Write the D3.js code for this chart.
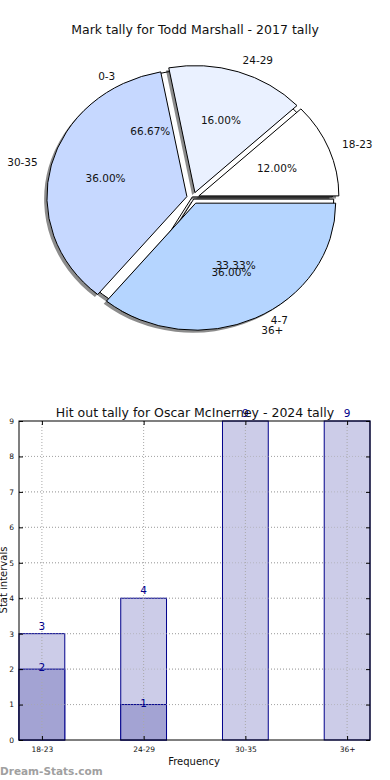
<!DOCTYPE html>
<html>
<head>
<meta charset="utf-8">
<script src="https://cdn.jsdelivr.net/npm/d3@7"></script>
<style>
  body { margin: 0; background: #fff; }
  svg { display: block; font-family: "DejaVu Sans", sans-serif; }
</style>
</head>
<body>
<svg id="chart" width="390" height="780"></svg>
<script>
// pie data
const pieTitle = "Mark tally for Todd Marshall - 2017 tally";
const pieLabels = ["18-23", "24-29", "30-35", "36+"];
const pieValues = [12, 16, 36, 36];
const pieColors = ["#ffffff", "#eaf1ff", "#c6d8ff", "#b5d5ff"];
const backLabels = ["0-3", "4-7"];
const backValues = [66.67, 33.33];

// bar data
const barTitle = "Hit out tally for Oscar McInerney - 2024 tally";
const barCats = ["18-23", "24-29", "30-35", "36+"];
const totalVals = [3, 4, 9, 9];
const partVals = [2, 1, 0, 0];
const yTicks = [0, 1, 2, 3, 4, 5, 6, 7, 8, 9];

const svg = d3.select("#chart");

// ---------- pie ----------
const cx = 193, cy = 198, rx = 140, ry = 127;
svg.append("text")
    .attr("x", 195).attr("y", 34)
    .attr("text-anchor", "middle")
    .attr("font-size", 12.5)
    .attr("fill", "#111")
    .text(pieTitle);

// matplotlib starts at 3 o'clock and goes counter-clockwise
const pie = d3.pie().sort(null).startAngle(Math.PI / 2).endAngle(Math.PI / 2 - 2 * Math.PI);
const arc = d3.arc().innerRadius(0).outerRadius(1);

function drawPie(values, colors, explode) {
    const arcs = pie(values);
    const g = svg.append("g").attr("transform", `translate(${cx},${cy}) scale(${rx},${ry})`);
    const off = d => {
        const m = (d.startAngle + d.endAngle) / 2;
        return [Math.sin(m) * explode, -Math.cos(m) * explode];
    };
    // shadows
    g.selectAll(".shadow").data(arcs).join("path")
        .attr("class", "shadow")
        .attr("d", arc)
        .attr("transform", d => `translate(${off(d)[0] - 0.02},${off(d)[1] + 0.02})`)
        .attr("fill", "#000")
        .attr("fill-opacity", 0.45);
    g.selectAll(".wedge").data(arcs).join("path")
        .attr("class", "wedge")
        .attr("d", arc)
        .attr("transform", d => `translate(${off(d)[0]},${off(d)[1]})`)
        .attr("fill", (d, i) => colors[i])
        .attr("stroke", "#000")
        .attr("stroke-width", 1)
        .attr("vector-effect", "non-scaling-stroke");
    return arcs;
}

function pieText(arcs, labels, explode) {
    arcs.forEach((d, i) => {
        const m = (d.startAngle + d.endAngle) / 2;
        const ux = Math.sin(m), uy = -Math.cos(m);
        // percentage inside
        const px = cx + (0.6 + explode) * rx * ux;
        const py = cy + (0.6 + explode) * ry * uy;
        svg.append("text")
            .attr("x", px).attr("y", py)
            .attr("text-anchor", "middle")
            .attr("dominant-baseline", "central")
            .attr("font-size", 10.5)
            .attr("fill", "#111")
            .text(d3.format(".2f")(d.value) + "%");
        // category label outside
        const lx = cx + (1.1 + explode) * rx * ux;
        const ly = cy + (1.1 + explode) * ry * uy;
        svg.append("text")
            .attr("x", lx).attr("y", ly)
            .attr("text-anchor", ux >= 0 ? "start" : "end")
            .attr("dominant-baseline", "central")
            .attr("font-size", 10.5)
            .attr("fill", "#111")
            .text(labels[i]);
    });
}

const backArcs = drawPie(backValues, ["#ffffff", "#ffffff"], 0.01);
const mainArcs = drawPie(pieValues, pieColors, 0.045);
pieText(backArcs, backLabels, 0.01);
pieText(mainArcs, pieLabels, 0.045);

// ---------- bar chart ----------
const m = {left: 19, top: 421, right: 370, bottom: 740};
const bw = 0.45;
const x = d3.scaleLinear().domain([-bw / 2, barCats.length - 1 + bw / 2]).range([m.left, m.right]);
const y = d3.scaleLinear().domain([0, 9]).range([m.bottom, m.top]);
const bg = svg.append("g");

// grid
bg.selectAll(".hgrid").data(yTicks.slice(1, -1)).join("line")
    .attr("x1", m.left).attr("x2", m.right)
    .attr("y1", d => y(d)).attr("y2", d => y(d))
    .attr("stroke", "#a8a8a8").attr("stroke-dasharray", "1,2");

// bars (totals, then part overlaid)
const navy = "#00008b";
bg.selectAll(".tot").data(totalVals).join("rect")
    .attr("x", (d, i) => x(i - bw / 2)).attr("width", x(bw) - x(0))
    .attr("y", d => y(d)).attr("height", d => y(0) - y(d))
    .attr("fill", "#ccccE8").attr("stroke", navy).attr("stroke-width", 1);
bg.selectAll(".part").data(partVals.filter(d => d > 0)).join("rect")
    .attr("x", (d, i) => x(i - bw / 2)).attr("width", x(bw) - x(0))
    .attr("y", d => y(d)).attr("height", d => y(0) - y(d))
    .attr("fill", "#a3a3d3").attr("stroke", navy).attr("stroke-width", 1);

// grid drawn over the bars as well
bg.selectAll(".vgrid").data(barCats).join("line")
    .attr("x1", (d, i) => x(i)).attr("x2", (d, i) => x(i))
    .attr("y1", m.top).attr("y2", m.bottom)
    .attr("stroke", "#a8a8a8").attr("stroke-dasharray", "1,2");
bg.selectAll(".hgrid2").data(yTicks.slice(1, -1)).join("line")
    .attr("x1", m.left).attr("x2", m.right)
    .attr("y1", d => y(d)).attr("y2", d => y(d))
    .attr("stroke", "#a8a8a8").attr("stroke-dasharray", "1,2").attr("opacity", 0.6);

// frame
bg.append("rect")
    .attr("x", m.left).attr("y", m.top)
    .attr("width", m.right - m.left).attr("height", m.bottom - m.top)
    .attr("fill", "none").attr("stroke", "#000").attr("stroke-width", 1);

// axes
const yAxis = d3.axisLeft(y).tickValues(yTicks).tickSize(-4).tickPadding(5).tickSizeOuter(0);
bg.append("g").attr("transform", `translate(${m.left},0)`).call(yAxis)
    .call(g => g.select(".domain").remove())
    .call(g => g.selectAll("text").attr("font-size", 7.5).attr("font-family", "DejaVu Sans").attr("fill", "#111"));
bg.append("g").attr("transform", `translate(${m.right},0)`)
    .call(d3.axisRight(y).tickValues(yTicks).tickSize(-4).tickFormat(""))
    .call(g => g.select(".domain").remove());
const xAxis = d3.axisBottom(x).tickValues(barCats.map((d, i) => i))
    .tickFormat(i => barCats[i]).tickSize(-4).tickPadding(7);
bg.append("g").attr("transform", `translate(0,${m.bottom})`).call(xAxis)
    .call(g => g.select(".domain").remove())
    .call(g => g.selectAll("text").attr("font-size", 7.5).attr("font-family", "DejaVu Sans").attr("fill", "#111"));
bg.append("g").attr("transform", `translate(0,${m.top})`)
    .call(d3.axisTop(x).tickValues(barCats.map((d, i) => i)).tickSize(-4).tickFormat(""))
    .call(g => g.select(".domain").remove());

// value labels
bg.selectAll(".totlab").data(totalVals).join("text")
    .attr("x", (d, i) => x(i)).attr("y", d => y(d) - 8)
    .attr("text-anchor", "middle").attr("dominant-baseline", "central")
    .attr("font-size", 10.5).attr("fill", navy)
    .text(d => d);
bg.selectAll(".partlab").data(partVals.filter(d => d > 0)).join("text")
    .attr("x", (d, i) => x(i)).attr("y", d => y(d) - 2)
    .attr("text-anchor", "middle").attr("dominant-baseline", "central")
    .attr("font-size", 10.5).attr("fill", navy)
    .text(d => d);

// titles
svg.append("text")
    .attr("x", 195).attr("y", 417)
    .attr("text-anchor", "middle")
    .attr("font-size", 12.5).attr("fill", "#111")
    .text(barTitle);
svg.append("text")
    .attr("x", 194).attr("y", 765)
    .attr("text-anchor", "middle")
    .attr("font-size", 10).attr("fill", "#111")
    .text("Frequency");
svg.append("text")
    .attr("transform", "translate(7,580) rotate(-90)")
    .attr("text-anchor", "middle")
    .attr("font-size", 10).attr("fill", "#111")
    .text("Stat intervals");

// watermark
svg.append("text")
    .attr("x", 0).attr("y", 775)
    .attr("font-size", 10.5).attr("font-weight", "bold")
    .attr("fill", "#a0a0a0")
    .text("Dream-Stats.com");
</script>
</body>
</html>
